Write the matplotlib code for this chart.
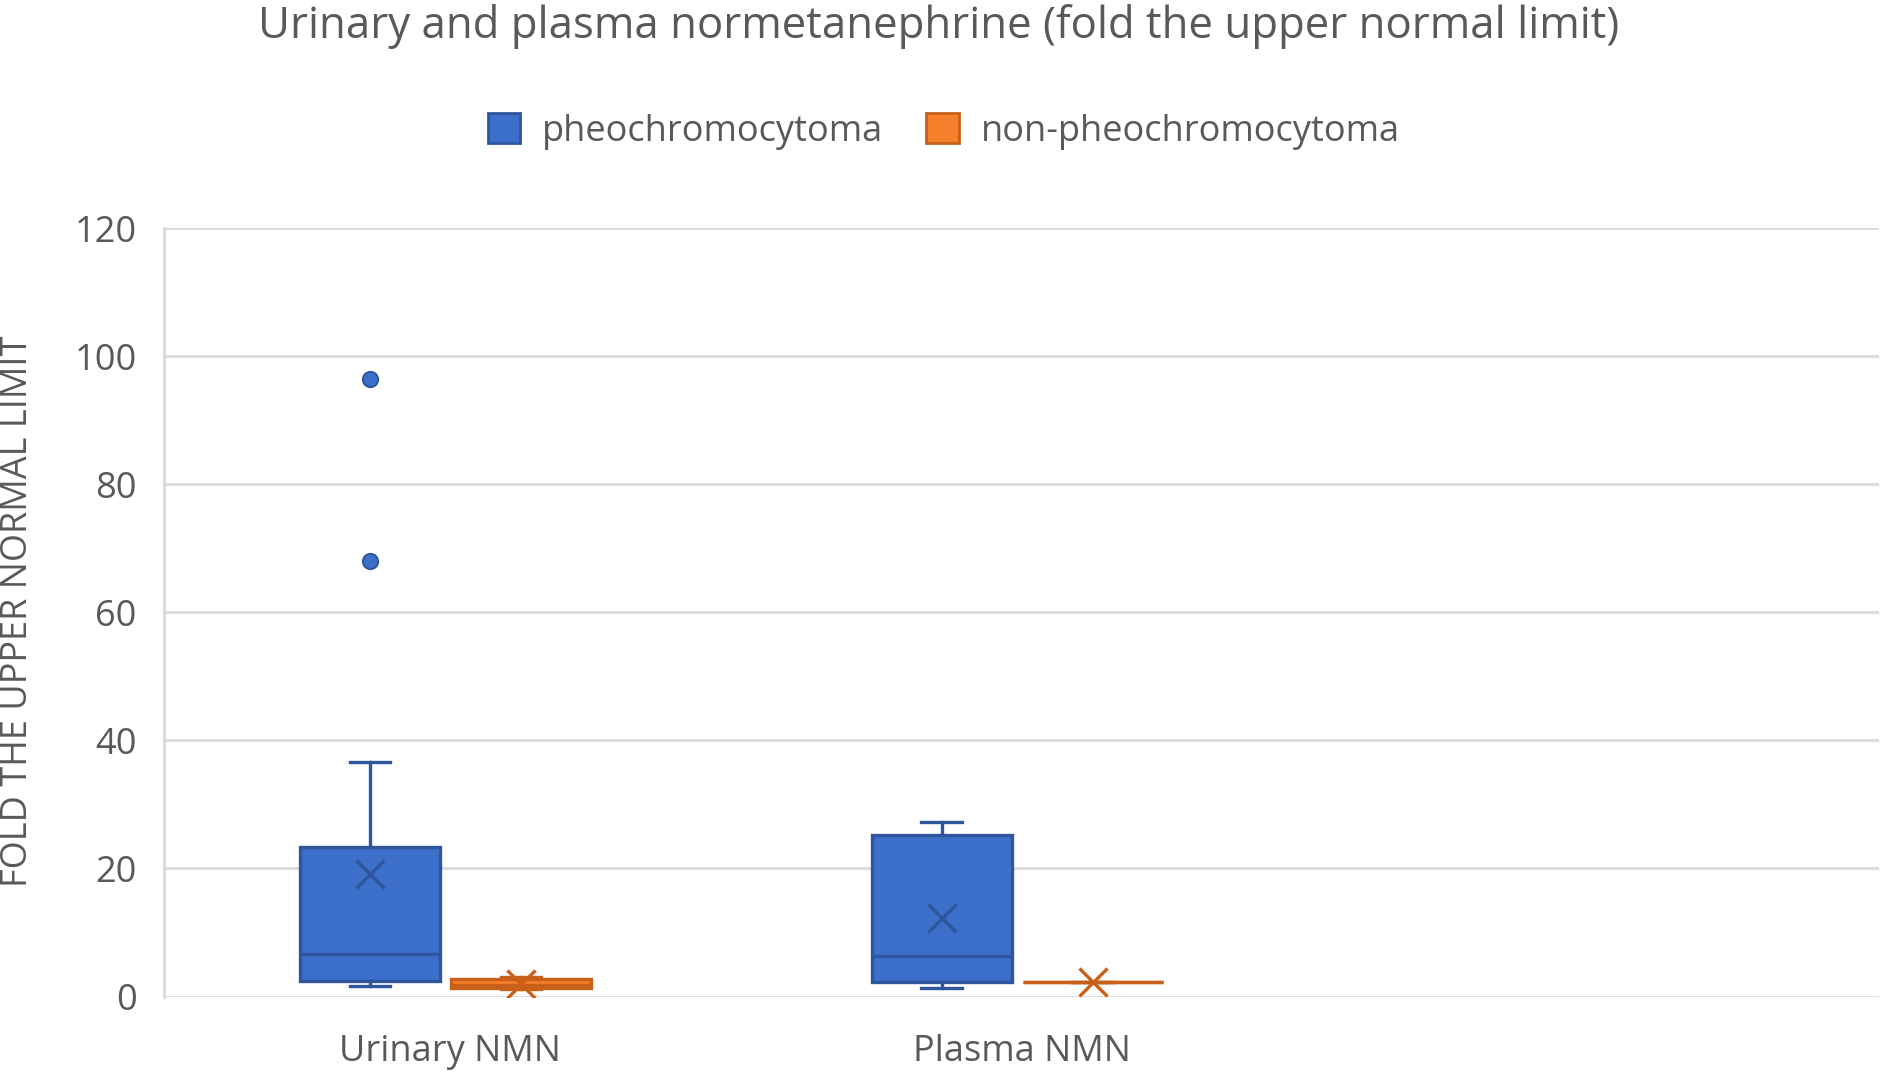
import matplotlib.pyplot as plt
from matplotlib.patches import Patch

plt.rcParams['font.family'] = ['Open Sans', 'DejaVu Sans']

categories = ['Urinary NMN', 'Plasma NMN']
groups = ['pheochromocytoma', 'non-pheochromocytoma']

# box statistics: [Urinary, Plasma]
pheo_whislo = [1.7, 1.4]
pheo_q1 = [2.5, 2.3]
pheo_med = [6.7, 6.3]
pheo_q3 = [23.3, 25.2]
pheo_whishi = [36.6, 27.3]
pheo_mean = [19.1, 12.3]
pheo_fliers = [[68.0, 96.4], []]

non_whislo = [1.2, 2.2]
non_q1 = [1.3, 2.2]
non_med = [1.8, 2.2]
non_q3 = [2.7, 2.2]
non_whishi = [3.1, 2.2]
non_mean = [2.0, 2.2]
non_fliers = [[], []]

yticks = [0, 20, 40, 60, 80, 100, 120]

blue_fill, blue_edge = '#3B6FCA', '#2F559C'
orange_fill, orange_edge = '#F57F2A', '#C8601A'
text_col = '#595959'
grid_col = '#D9D9D9'

fig = plt.figure(figsize=(18.8, 10.77), dpi=100)
ax = fig.add_axes((0.0874, 0.0747, 0.9121, 0.7136))


def make_stats(lo, q1, med, q3, hi, mean, fliers):
    out = []
    for i in range(len(lo)):
        out.append(dict(whislo=lo[i], q1=q1[i], med=med[i], q3=q3[i],
                        whishi=hi[i], mean=mean[i], fliers=fliers[i]))
    return out


def draw(stats, offset, fill, edge):
    pos = [i + 0.5 + offset for i in range(len(stats))]
    ax.bxp(stats, positions=pos, widths=0.245, capwidths=0.071,
           patch_artist=True, showmeans=True, showfliers=True,
           boxprops=dict(facecolor=fill, edgecolor=edge, linewidth=2.4),
           medianprops=dict(color=edge, linewidth=2.4),
           whiskerprops=dict(color=edge, linewidth=2.4),
           capprops=dict(color=edge, linewidth=2.4),
           meanprops=dict(marker='x', markersize=20, markeredgecolor=edge,
                          markeredgewidth=2.4),
           flierprops=dict(marker='o', markersize=11, markerfacecolor=fill,
                           markeredgecolor=edge, markeredgewidth=1.4))


draw(make_stats(pheo_whislo, pheo_q1, pheo_med, pheo_q3, pheo_whishi,
                pheo_mean, pheo_fliers), -0.14, blue_fill, blue_edge)
draw(make_stats(non_whislo, non_q1, non_med, non_q3, non_whishi,
                non_mean, non_fliers), 0.124, orange_fill, orange_edge)

ax.set_xlim(0, 3)
ax.set_ylim(0, 120)
ax.set_yticks(yticks)
ax.set_xticks([0.5, 1.5])
ax.set_xticklabels(categories)
ax.tick_params(axis='both', length=0, labelsize=26, colors=text_col)
ax.tick_params(axis='y', pad=20)
ax.tick_params(axis='x', pad=27)
ax.yaxis.grid(True, color=grid_col, linewidth=2)
ax.set_axisbelow(True)
for s in ['top', 'right', 'bottom']:
    ax.spines[s].set_visible(False)
ax.spines['left'].set_color(grid_col)
ax.spines['left'].set_linewidth(2)

fig.text(0.0096, 0.432, 'FOLD THE UPPER NORMAL LIMIT', rotation=90,
         ha='center', va='center', fontsize=26, color=text_col)
fig.text(0.4995, 0.975, 'Urinary and plasma normetanephrine (fold the upper normal limit)',
         ha='center', va='center', fontsize=31.5, color=text_col)

handles = [Patch(facecolor=blue_fill, edgecolor=blue_edge, linewidth=2),
           Patch(facecolor=orange_fill, edgecolor=orange_edge, linewidth=2)]
fig.legend(handles, groups, loc='center', bbox_to_anchor=(0.502, 0.878),
           ncol=2, frameon=False, fontsize=26, labelcolor=text_col,
           handlelength=0.9, handleheight=0.9, handletextpad=0.6,
           columnspacing=1.2)

fig.savefig('out.png', dpi=100)
